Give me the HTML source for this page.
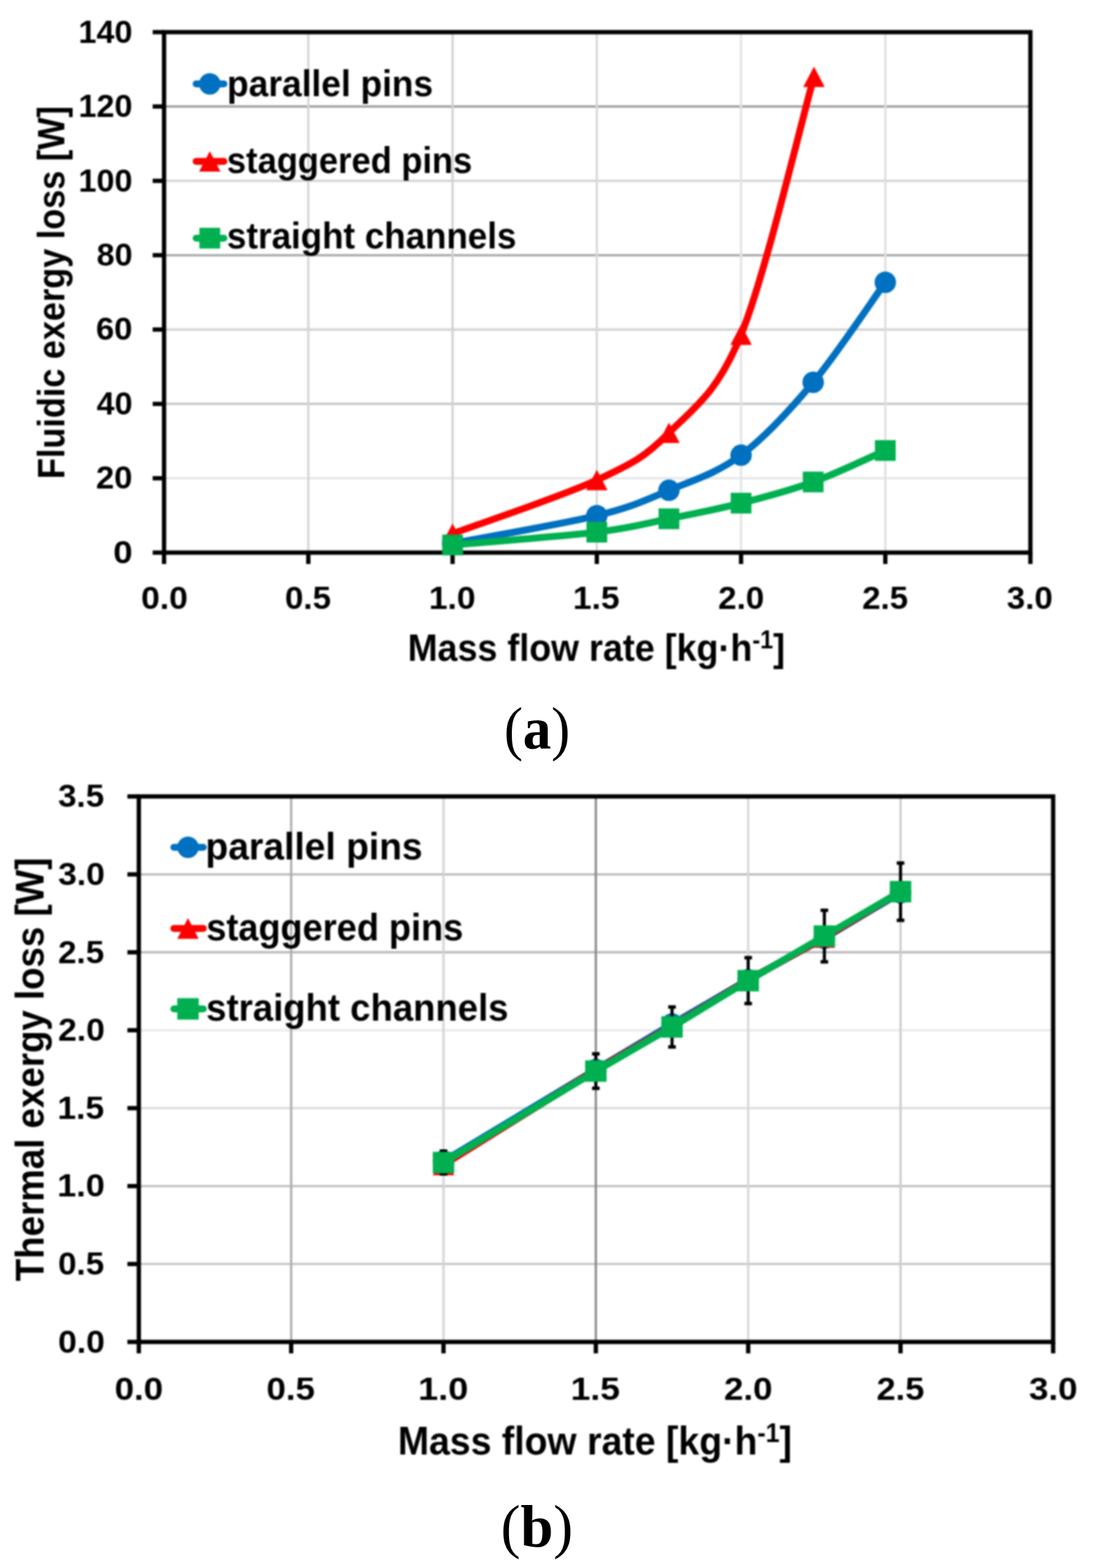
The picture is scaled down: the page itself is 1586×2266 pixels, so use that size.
<!DOCTYPE html>
<html><head><meta charset="utf-8"><title>Exergy loss vs mass flow rate</title>
<style>html,body{margin:0;padding:0;background:#fff;}body{position:relative;width:1586px;height:2266px;overflow:hidden;}svg{display:block;position:absolute;left:0;top:0;}#charts{filter:blur(1.0px);}</style></head><body>
<svg id="charts" width="1586" height="2266" viewBox="0 0 1586 2266">
<rect width="1586" height="2266" fill="#fff"/>
<line x1="237.2" y1="691.15" x2="1488.5" y2="691.15" stroke="#e7e7e7" stroke-width="3.3"/>
<line x1="237.2" y1="583.7" x2="1488.5" y2="583.7" stroke="#c6c6c6" stroke-width="3.3"/>
<line x1="237.2" y1="476.25" x2="1488.5" y2="476.25" stroke="#d3d3d3" stroke-width="3.3"/>
<line x1="237.2" y1="368.8" x2="1488.5" y2="368.8" stroke="#a8a8a8" stroke-width="3.3"/>
<line x1="237.2" y1="261.35" x2="1488.5" y2="261.35" stroke="#d4d4d4" stroke-width="3.3"/>
<line x1="237.2" y1="153.9" x2="1488.5" y2="153.9" stroke="#9c9c9c" stroke-width="3.3"/>
<line x1="445.75" y1="46.45" x2="445.75" y2="798.6" stroke="#d5d5d5" stroke-width="3.3"/>
<line x1="654.3" y1="46.45" x2="654.3" y2="798.6" stroke="#d2d2d2" stroke-width="3.3"/>
<line x1="862.85" y1="46.45" x2="862.85" y2="798.6" stroke="#d9d9d9" stroke-width="3.3"/>
<line x1="1071.4" y1="46.45" x2="1071.4" y2="798.6" stroke="#e4e4e4" stroke-width="3.3"/>
<line x1="1279.95" y1="46.45" x2="1279.95" y2="798.6" stroke="#e0e0e0" stroke-width="3.3"/>
<rect x="237.2" y="46.45" width="1252.5" height="752.15" fill="none" stroke="#000" stroke-width="6.2"/>
<line x1="220.7" y1="798.6" x2="237.2" y2="798.6" stroke="#000" stroke-width="6.2"/>
<line x1="220.7" y1="691.15" x2="237.2" y2="691.15" stroke="#000" stroke-width="6.2"/>
<line x1="220.7" y1="583.7" x2="237.2" y2="583.7" stroke="#000" stroke-width="6.2"/>
<line x1="220.7" y1="476.25" x2="237.2" y2="476.25" stroke="#000" stroke-width="6.2"/>
<line x1="220.7" y1="368.8" x2="237.2" y2="368.8" stroke="#000" stroke-width="6.2"/>
<line x1="220.7" y1="261.35" x2="237.2" y2="261.35" stroke="#000" stroke-width="6.2"/>
<line x1="220.7" y1="153.9" x2="237.2" y2="153.9" stroke="#000" stroke-width="6.2"/>
<line x1="220.7" y1="46.45" x2="237.2" y2="46.45" stroke="#000" stroke-width="6.2"/>
<line x1="237.2" y1="798.6" x2="237.2" y2="815.1" stroke="#000" stroke-width="6.2"/>
<line x1="445.75" y1="798.6" x2="445.75" y2="815.1" stroke="#000" stroke-width="6.2"/>
<line x1="654.3" y1="798.6" x2="654.3" y2="815.1" stroke="#000" stroke-width="6.2"/>
<line x1="862.85" y1="798.6" x2="862.85" y2="815.1" stroke="#000" stroke-width="6.2"/>
<line x1="1071.4" y1="798.6" x2="1071.4" y2="815.1" stroke="#000" stroke-width="6.2"/>
<line x1="1279.95" y1="798.6" x2="1279.95" y2="815.1" stroke="#000" stroke-width="6.2"/>
<line x1="1489.7" y1="798.6" x2="1489.7" y2="815.1" stroke="#000" stroke-width="6.2"/>
<path d="M654.3,785.17 C689.06,778.5 810.71,757.9 862.85,745.14 C914.99,732.38 932.37,723.16 967.12,708.61 C1001.88,694.06 1036.64,683.85 1071.4,657.84 C1106.16,631.83 1140.92,594.18 1175.67,552.54 C1210.43,510.9 1262.57,432.11 1279.95,408.02" fill="none" stroke="#0070C0" stroke-width="10" stroke-linejoin="round" stroke-linecap="round"/>
<circle cx="654.3" cy="785.17" r="15.5" fill="#0070C0"/>
<circle cx="862.85" cy="745.14" r="15.5" fill="#0070C0"/>
<circle cx="967.12" cy="708.61" r="15.5" fill="#0070C0"/>
<circle cx="1071.4" cy="657.84" r="15.5" fill="#0070C0"/>
<circle cx="1175.67" cy="552.54" r="15.5" fill="#0070C0"/>
<circle cx="1279.95" cy="408.02" r="15.5" fill="#0070C0"/>
<path d="M654.3,771.2 C689.06,758.31 810.71,718.1 862.85,693.84 C914.99,669.57 932.37,660.62 967.12,625.61 C1001.88,590.59 1036.45,569.55 1071.4,483.77 C1106.35,397.99 1159.23,173.06 1176.8,110.92" fill="none" stroke="#FF0000" stroke-width="10" stroke-linejoin="round" stroke-linecap="round"/>
<path d="M654.3,756.45 L669.8,785.95 L638.8,785.95 Z" fill="#FF0000"/>
<path d="M862.85,679.09 L878.35,708.59 L847.35,708.59 Z" fill="#FF0000"/>
<path d="M967.12,610.86 L982.62,640.36 L951.62,640.36 Z" fill="#FF0000"/>
<path d="M1071.4,469.02 L1086.9,498.52 L1055.9,498.52 Z" fill="#FF0000"/>
<path d="M1176.8,96.17 L1192.3,125.67 L1161.3,125.67 Z" fill="#FF0000"/>
<path d="M654.3,787.59 C689.06,784.5 810.71,775.36 862.85,769.05 C914.99,762.74 932.37,756.69 967.12,749.71 C1001.88,742.73 1036.64,736.01 1071.4,727.15 C1106.16,718.28 1140.92,709.2 1175.67,696.52 C1210.43,683.84 1262.57,658.65 1279.95,651.07" fill="none" stroke="#00B050" stroke-width="10" stroke-linejoin="round" stroke-linecap="round"/>
<rect x="639.3" y="772.59" width="30" height="30" fill="#00B050"/>
<rect x="847.85" y="754.05" width="30" height="30" fill="#00B050"/>
<rect x="952.12" y="734.71" width="30" height="30" fill="#00B050"/>
<rect x="1056.4" y="712.15" width="30" height="30" fill="#00B050"/>
<rect x="1160.67" y="681.52" width="30" height="30" fill="#00B050"/>
<rect x="1264.95" y="636.07" width="30" height="30" fill="#00B050"/>
<line x1="283.6" y1="121.3" x2="323.7" y2="121.3" stroke="#0070C0" stroke-width="10" stroke-linecap="round"/>
<circle cx="303.3" cy="121.3" r="15.5" fill="#0070C0"/>
<line x1="283.6" y1="233.3" x2="323.7" y2="233.3" stroke="#FF0000" stroke-width="10" stroke-linecap="round"/>
<path d="M303.3,218.55 L318.8,248.05 L287.8,248.05 Z" fill="#FF0000"/>
<line x1="283.6" y1="344.2" x2="323.7" y2="344.2" stroke="#00B050" stroke-width="10" stroke-linecap="round"/>
<rect x="288.3" y="329.2" width="30" height="30" fill="#00B050"/>
<line x1="200.7" y1="1826.68" x2="1522.2" y2="1826.68" stroke="#c8c8c8" stroke-width="3.3"/>
<line x1="200.7" y1="1714.07" x2="1522.2" y2="1714.07" stroke="#c1c1c1" stroke-width="3.3"/>
<line x1="200.7" y1="1601.45" x2="1522.2" y2="1601.45" stroke="#dcdcdc" stroke-width="3.3"/>
<line x1="200.7" y1="1488.84" x2="1522.2" y2="1488.84" stroke="#eaeaea" stroke-width="3.3"/>
<line x1="200.7" y1="1376.22" x2="1522.2" y2="1376.22" stroke="#b7b7b7" stroke-width="3.3"/>
<line x1="200.7" y1="1263.61" x2="1522.2" y2="1263.61" stroke="#bcbcbc" stroke-width="3.3"/>
<line x1="420.95" y1="1150.99" x2="420.95" y2="1939.3" stroke="#adadad" stroke-width="3.3"/>
<line x1="641.2" y1="1150.99" x2="641.2" y2="1939.3" stroke="#d4d4d4" stroke-width="3.3"/>
<line x1="861.45" y1="1150.99" x2="861.45" y2="1939.3" stroke="#8b8b8b" stroke-width="3.3"/>
<line x1="1081.7" y1="1150.99" x2="1081.7" y2="1939.3" stroke="#d8d8d8" stroke-width="3.3"/>
<line x1="1301.95" y1="1150.99" x2="1301.95" y2="1939.3" stroke="#cdcdcd" stroke-width="3.3"/>
<rect x="200.7" y="1150.99" width="1321.9" height="788.31" fill="none" stroke="#000" stroke-width="6.2"/>
<line x1="184.2" y1="1939.3" x2="200.7" y2="1939.3" stroke="#000" stroke-width="6.2"/>
<line x1="184.2" y1="1826.68" x2="200.7" y2="1826.68" stroke="#000" stroke-width="6.2"/>
<line x1="184.2" y1="1714.07" x2="200.7" y2="1714.07" stroke="#000" stroke-width="6.2"/>
<line x1="184.2" y1="1601.45" x2="200.7" y2="1601.45" stroke="#000" stroke-width="6.2"/>
<line x1="184.2" y1="1488.84" x2="200.7" y2="1488.84" stroke="#000" stroke-width="6.2"/>
<line x1="184.2" y1="1376.22" x2="200.7" y2="1376.22" stroke="#000" stroke-width="6.2"/>
<line x1="184.2" y1="1263.61" x2="200.7" y2="1263.61" stroke="#000" stroke-width="6.2"/>
<line x1="184.2" y1="1150.99" x2="200.7" y2="1150.99" stroke="#000" stroke-width="6.2"/>
<line x1="200.7" y1="1939.3" x2="200.7" y2="1955.8" stroke="#000" stroke-width="6.2"/>
<line x1="420.95" y1="1939.3" x2="420.95" y2="1955.8" stroke="#000" stroke-width="6.2"/>
<line x1="641.2" y1="1939.3" x2="641.2" y2="1955.8" stroke="#000" stroke-width="6.2"/>
<line x1="861.45" y1="1939.3" x2="861.45" y2="1955.8" stroke="#000" stroke-width="6.2"/>
<line x1="1081.7" y1="1939.3" x2="1081.7" y2="1955.8" stroke="#000" stroke-width="6.2"/>
<line x1="1301.95" y1="1939.3" x2="1301.95" y2="1955.8" stroke="#000" stroke-width="6.2"/>
<line x1="1522.6" y1="1939.3" x2="1522.6" y2="1955.8" stroke="#000" stroke-width="6.2"/>
<path d="M641.2,1678.03 L861.45,1545.6 L971.58,1479.83 L1081.7,1415.64 L1191.83,1355.95 L1301.95,1290.19" fill="none" stroke="#0070C0" stroke-width="10" stroke-linejoin="round" stroke-linecap="round"/>
<circle cx="641.2" cy="1678.03" r="15.5" fill="#0070C0"/>
<circle cx="861.45" cy="1545.6" r="15.5" fill="#0070C0"/>
<circle cx="971.58" cy="1479.83" r="15.5" fill="#0070C0"/>
<circle cx="1081.7" cy="1415.64" r="15.5" fill="#0070C0"/>
<circle cx="1191.83" cy="1355.95" r="15.5" fill="#0070C0"/>
<circle cx="1301.95" cy="1290.19" r="15.5" fill="#0070C0"/>
<path d="M641.2,1683.44 L861.45,1546.27 L971.58,1483.21 L1081.7,1416.32 L1191.83,1354.83 L1301.95,1288.61" fill="none" stroke="#FF0000" stroke-width="10" stroke-linejoin="round" stroke-linecap="round"/>
<path d="M641.2,1668.44 L656.7,1698.44 L625.7,1698.44 Z" fill="#FF0000"/>
<path d="M861.45,1531.27 L876.95,1561.27 L845.95,1561.27 Z" fill="#FF0000"/>
<path d="M971.58,1468.21 L987.08,1498.21 L956.08,1498.21 Z" fill="#FF0000"/>
<path d="M1081.7,1401.32 L1097.2,1431.32 L1066.2,1431.32 Z" fill="#FF0000"/>
<path d="M1191.83,1339.83 L1207.33,1369.83 L1176.33,1369.83 Z" fill="#FF0000"/>
<path d="M1301.95,1273.61 L1317.45,1303.61 L1286.45,1303.61 Z" fill="#FF0000"/>
<path d="M641.2,1663.6 V1696.52" stroke="#000" stroke-width="4.5" fill="none"/>
<path d="M635.7,1663.6 H646.7 M635.7,1696.52 H646.7" stroke="#000" stroke-width="5" fill="none"/>
<path d="M861.45,1522.99 V1572.71" stroke="#000" stroke-width="4.5" fill="none"/>
<path d="M855.95,1522.99 H866.95 M855.95,1572.71 H866.95" stroke="#000" stroke-width="5" fill="none"/>
<path d="M971.58,1455.21 V1513.01" stroke="#000" stroke-width="4.5" fill="none"/>
<path d="M966.08,1455.21 H977.08 M966.08,1513.01 H977.08" stroke="#000" stroke-width="5" fill="none"/>
<path d="M1081.7,1384.06 V1450.37" stroke="#000" stroke-width="4.5" fill="none"/>
<path d="M1076.2,1384.06 H1087.2 M1076.2,1450.37 H1087.2" stroke="#000" stroke-width="5" fill="none"/>
<path d="M1191.83,1315.56 V1390.04" stroke="#000" stroke-width="4.5" fill="none"/>
<path d="M1186.33,1315.56 H1197.33 M1186.33,1390.04 H1197.33" stroke="#000" stroke-width="5" fill="none"/>
<path d="M1301.95,1247.29 V1329.93" stroke="#000" stroke-width="4.5" fill="none"/>
<path d="M1296.45,1247.29 H1307.45 M1296.45,1329.93 H1307.45" stroke="#000" stroke-width="5" fill="none"/>
<path d="M641.2,1680.06 L861.45,1547.85 L971.58,1484.11 L1081.7,1417.22 L1191.83,1352.8 L1301.95,1288.61" fill="none" stroke="#00B050" stroke-width="10" stroke-linejoin="round" stroke-linecap="round"/>
<rect x="625.7" y="1664.56" width="31" height="31" fill="#00B050"/>
<rect x="845.95" y="1532.35" width="31" height="31" fill="#00B050"/>
<rect x="956.08" y="1468.61" width="31" height="31" fill="#00B050"/>
<rect x="1066.2" y="1401.72" width="31" height="31" fill="#00B050"/>
<rect x="1176.33" y="1337.3" width="31" height="31" fill="#00B050"/>
<rect x="1286.45" y="1273.11" width="31" height="31" fill="#00B050"/>
<line x1="251.4" y1="1224.5" x2="293.9" y2="1224.5" stroke="#0070C0" stroke-width="10" stroke-linecap="round"/>
<circle cx="271.8" cy="1224.5" r="15.5" fill="#0070C0"/>
<line x1="251.4" y1="1341.8" x2="293.9" y2="1341.8" stroke="#FF0000" stroke-width="10" stroke-linecap="round"/>
<path d="M271.8,1326.8 L287.3,1356.8 L256.3,1356.8 Z" fill="#FF0000"/>
<line x1="251.4" y1="1458" x2="293.9" y2="1458" stroke="#00B050" stroke-width="10" stroke-linecap="round"/>
<rect x="256.3" y="1442.5" width="31" height="31" fill="#00B050"/>
<g fill="#000">
<text id="ya0" transform="translate(163.65,813.8) scale(1.0909,1)" font-family="'Liberation Sans', Arial, sans-serif" font-weight="bold" font-size="46">0</text>
<text id="ya20" transform="translate(138.73,706.35) scale(1.0319,1)" font-family="'Liberation Sans', Arial, sans-serif" font-weight="bold" font-size="46">20</text>
<text id="ya40" transform="translate(139.79,598.9) scale(1.0104,1)" font-family="'Liberation Sans', Arial, sans-serif" font-weight="bold" font-size="46">40</text>
<text id="ya60" transform="translate(138.73,491.45) scale(1.0319,1)" font-family="'Liberation Sans', Arial, sans-serif" font-weight="bold" font-size="46">60</text>
<text id="ya80" transform="translate(139.79,384) scale(1.0104,1)" font-family="'Liberation Sans', Arial, sans-serif" font-weight="bold" font-size="46">80</text>
<text id="ya100" transform="translate(113.56,276.55) scale(1.0153,1)" font-family="'Liberation Sans', Arial, sans-serif" font-weight="bold" font-size="46">100</text>
<text id="ya120" transform="translate(113.56,169.1) scale(1.0153,1)" font-family="'Liberation Sans', Arial, sans-serif" font-weight="bold" font-size="46">120</text>
<text id="ya140" transform="translate(113.56,61.65) scale(1.0153,1)" font-family="'Liberation Sans', Arial, sans-serif" font-weight="bold" font-size="46">140</text>
<text id="xa0" transform="translate(203.91,879.5) scale(1.0567,1)" font-family="'Liberation Sans', Arial, sans-serif" font-weight="bold" font-size="46">0.0</text>
<text id="xa5" transform="translate(412.02,879.5) scale(1.0393,1)" font-family="'Liberation Sans', Arial, sans-serif" font-weight="bold" font-size="46">0.5</text>
<text id="xa10" transform="translate(620.06,879.5) scale(1.0567,1)" font-family="'Liberation Sans', Arial, sans-serif" font-weight="bold" font-size="46">1.0</text>
<text id="xa15" transform="translate(828.14,879.5) scale(1.0567,1)" font-family="'Liberation Sans', Arial, sans-serif" font-weight="bold" font-size="46">1.5</text>
<text id="xa20" transform="translate(1038.35,879.5) scale(1.0393,1)" font-family="'Liberation Sans', Arial, sans-serif" font-weight="bold" font-size="46">2.0</text>
<text id="xa25" transform="translate(1246.43,879.5) scale(1.0393,1)" font-family="'Liberation Sans', Arial, sans-serif" font-weight="bold" font-size="46">2.5</text>
<text id="xa30" transform="translate(1455.55,879.5) scale(1.0393,1)" font-family="'Liberation Sans', Arial, sans-serif" font-weight="bold" font-size="46">3.0</text>
<text id="xta" transform="translate(589.39,954.7) scale(0.9427,1)" font-family="'Liberation Sans', Arial, sans-serif" font-weight="bold" font-size="55">Mass flow rate [kg·h<tspan font-size="36" dy="-17.5">-1</tspan><tspan dy="17.5">]</tspan></text>
<text id="yta" transform="translate(92.5,692.22) rotate(-90) scale(0.9000,1)" font-family="'Liberation Sans', Arial, sans-serif" font-weight="bold" font-size="55">Fluidic exergy loss [W]</text>
<text id="la1" transform="translate(328.34,139.2) scale(0.9634,1)" font-family="'Liberation Sans', Arial, sans-serif" font-weight="bold" font-size="53">parallel pins</text>
<text id="la2" transform="translate(328.12,249.8) scale(0.9408,1)" font-family="'Liberation Sans', Arial, sans-serif" font-weight="bold" font-size="53">staggered pins</text>
<text id="la3" transform="translate(328.09,359.2) scale(0.9539,1)" font-family="'Liberation Sans', Arial, sans-serif" font-weight="bold" font-size="53">straight channels</text>
<text id="yb0" transform="translate(83.95,1954.7) scale(1.0355,1)" font-family="'Liberation Sans', Arial, sans-serif" font-weight="bold" font-size="47">0.0</text>
<text id="yb5" transform="translate(83.97,1842.09) scale(1.0190,1)" font-family="'Liberation Sans', Arial, sans-serif" font-weight="bold" font-size="47">0.5</text>
<text id="yb10" transform="translate(82.87,1729.47) scale(1.0525,1)" font-family="'Liberation Sans', Arial, sans-serif" font-weight="bold" font-size="47">1.0</text>
<text id="yb15" transform="translate(82.91,1616.86) scale(1.0355,1)" font-family="'Liberation Sans', Arial, sans-serif" font-weight="bold" font-size="47">1.5</text>
<text id="yb20" transform="translate(83.95,1504.24) scale(1.0355,1)" font-family="'Liberation Sans', Arial, sans-serif" font-weight="bold" font-size="47">2.0</text>
<text id="yb25" transform="translate(83.97,1391.62) scale(1.0190,1)" font-family="'Liberation Sans', Arial, sans-serif" font-weight="bold" font-size="47">2.5</text>
<text id="yb30" transform="translate(83.95,1279.01) scale(1.0355,1)" font-family="'Liberation Sans', Arial, sans-serif" font-weight="bold" font-size="47">3.0</text>
<text id="yb35" transform="translate(83.97,1166.39) scale(1.0190,1)" font-family="'Liberation Sans', Arial, sans-serif" font-weight="bold" font-size="47">3.5</text>
<text id="xb0" transform="translate(165.68,2022.6) scale(1.0742,1)" font-family="'Liberation Sans', Arial, sans-serif" font-weight="bold" font-size="47">0.0</text>
<text id="xb5" transform="translate(385.13,2022.6) scale(1.0742,1)" font-family="'Liberation Sans', Arial, sans-serif" font-weight="bold" font-size="47">0.5</text>
<text id="xb10" transform="translate(604.46,2022.6) scale(1.1100,1)" font-family="'Liberation Sans', Arial, sans-serif" font-weight="bold" font-size="47">1.0</text>
<text id="xb15" transform="translate(825.04,2022.6) scale(1.0918,1)" font-family="'Liberation Sans', Arial, sans-serif" font-weight="bold" font-size="47">1.5</text>
<text id="xb20" transform="translate(1046.68,2022.6) scale(1.0742,1)" font-family="'Liberation Sans', Arial, sans-serif" font-weight="bold" font-size="47">2.0</text>
<text id="xb25" transform="translate(1267.22,2022.6) scale(1.0571,1)" font-family="'Liberation Sans', Arial, sans-serif" font-weight="bold" font-size="47">2.5</text>
<text id="xb30" transform="translate(1487.72,2022.6) scale(1.0742,1)" font-family="'Liberation Sans', Arial, sans-serif" font-weight="bold" font-size="47">3.0</text>
<text id="xtb" transform="translate(575.2,2102.3) scale(0.9490,1)" font-family="'Liberation Sans', Arial, sans-serif" font-weight="bold" font-size="57">Mass flow rate [kg·h<tspan font-size="38" dy="-18.5">-1</tspan><tspan dy="18.5">]</tspan></text>
<text id="ytb" transform="translate(63,1851.51) rotate(-90) scale(0.9294,1)" font-family="'Liberation Sans', Arial, sans-serif" font-weight="bold" font-size="57">Thermal exergy loss [W]</text>
<text id="lb1" transform="translate(297.11,1242.3) scale(0.9692,1)" font-family="'Liberation Sans', Arial, sans-serif" font-weight="bold" font-size="55.5">parallel pins</text>
<text id="lb2" transform="translate(298.15,1358.7) scale(0.9415,1)" font-family="'Liberation Sans', Arial, sans-serif" font-weight="bold" font-size="55.5">staggered pins</text>
<text id="lb3" transform="translate(298.12,1475) scale(0.9512,1)" font-family="'Liberation Sans', Arial, sans-serif" font-weight="bold" font-size="55.5">straight channels</text>
</g>
</svg>
<svg id="captions" width="1586" height="2266" viewBox="0 0 1586 2266">
<g fill="#000">
<text id="capa" transform="translate(728.86,1082) scale(0.9387,1)" font-family="'Liberation Serif', 'Times New Roman', serif" font-weight="bold" font-size="87"><tspan font-weight="normal">(</tspan>a<tspan font-weight="normal">)</tspan></text>
<text id="capb" transform="translate(724.08,2234.7) scale(0.9808,1)" font-family="'Liberation Serif', 'Times New Roman', serif" font-weight="bold" font-size="87"><tspan font-weight="normal">(</tspan>b<tspan font-weight="normal">)</tspan></text>
</g>
</svg></body></html>
